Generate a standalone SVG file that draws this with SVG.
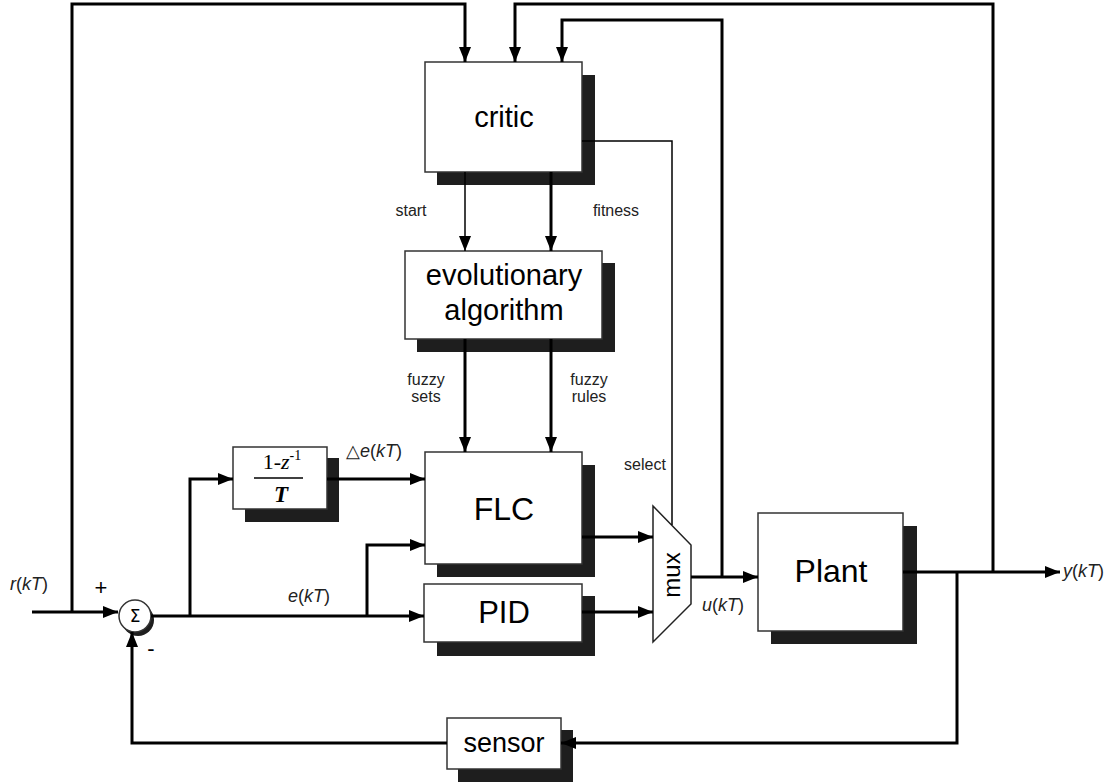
<svg xmlns="http://www.w3.org/2000/svg" width="1112" height="783" viewBox="0 0 1112 783">
<defs>
<marker id="ah" markerUnits="userSpaceOnUse" markerWidth="16" markerHeight="12" refX="15" refY="6" orient="auto">
<path d="M0,0 L15,6 L0,12 z" fill="#000"/>
</marker>
</defs>
<style>
.box{fill:#fff;stroke:#333;stroke-width:1.5}
.sh{fill:#1e1e1e}
.lbl{font-family:"Liberation Sans",Arial,sans-serif;fill:#000}
.sm{font-family:"Liberation Sans",Arial,sans-serif;font-size:16px;fill:#222}
.math{font-family:"Liberation Sans",Arial,sans-serif;font-size:18px;fill:#222}
.thick{fill:none;stroke:#000;stroke-width:3}
.thin{fill:none;stroke:#000;stroke-width:1.5}
</style>
<rect width="1112" height="783" fill="#fff"/>

<g id="critic">
<rect class="sh" x="437" y="75" width="158" height="110"/>
<rect class="box" x="425" y="62" width="157" height="110"/>
<text class="lbl" x="504" y="127" font-size="29" text-anchor="middle">critic</text>
</g>

<g id="evo">
<rect class="sh" x="417" y="263" width="198" height="89"/>
<rect class="box" x="405" y="251" width="197" height="88"/>
<text class="lbl" x="504" y="285" font-size="29" text-anchor="middle">evolutionary</text>
<text class="lbl" x="504" y="320" font-size="29" text-anchor="middle">algorithm</text>
</g>

<g id="flc">
<rect class="sh" x="437" y="465" width="158" height="112"/>
<rect class="box" x="425" y="452" width="157" height="112"/>
<text class="lbl" x="504" y="520" font-size="32" text-anchor="middle">FLC</text>
</g>

<g id="pid">
<rect class="sh" x="437" y="596" width="158" height="60"/>
<rect class="box" x="424" y="584" width="158" height="58"/>
<text class="lbl" x="504" y="623" font-size="31" text-anchor="middle">PID</text>
</g>

<g id="diff">
<rect class="sh" x="245" y="458" width="94" height="64"/>
<rect class="box" x="233" y="447" width="94" height="62"/>
<text x="282" y="469" font-family="Liberation Serif,serif" font-size="22" text-anchor="middle">1-<tspan font-style="italic">z</tspan><tspan font-size="14" dy="-9">-1</tspan></text>
<line x1="254" y1="478" x2="303" y2="478" stroke="#000" stroke-width="1.3"/>
<text x="281" y="502" font-family="Liberation Serif,serif" font-size="23" font-weight="bold" font-style="italic" text-anchor="middle">T</text>
</g>

<g id="sum">
<circle cx="138" cy="620" r="16" fill="#1e1e1e"/>
<circle cx="135" cy="616" r="16" fill="#fff" stroke="#333" stroke-width="1.5"/>
<text x="135" y="622" font-family="DejaVu Sans,sans-serif" font-size="17" text-anchor="middle">Σ</text>
</g>

<g id="mux">
<polygon points="653,506 691,545 691,604 653,642" fill="#fff" stroke="#222" stroke-width="1.5"/>
<text class="lbl" font-size="24" transform="translate(680,575) rotate(-90)" text-anchor="middle">mux</text>
</g>

<g id="plant">
<rect class="sh" x="771" y="526" width="146" height="118"/>
<rect class="box" x="758" y="513" width="145" height="118"/>
<text class="lbl" x="831" y="582" font-size="32" text-anchor="middle">Plant</text>
</g>

<g id="sensor">
<rect class="sh" x="458" y="730" width="115" height="52"/>
<rect class="box" x="447" y="718" width="114" height="51"/>
<text class="lbl" x="504" y="752" font-size="27" text-anchor="middle">sensor</text>
</g>

<g id="connectors">
<path class="thick" d="M32,612 H118" marker-end="url(#ah)"/>
<path class="thick" d="M72,612 V4 H465 V62" marker-end="url(#ah)"/>
<path class="thick" d="M993,572 V4 H515 V62" marker-end="url(#ah)"/>
<path class="thick" d="M722,577 V20 H562 V62" marker-end="url(#ah)"/>
<path class="thin" d="M582,141 H672 V525"/>
<path class="thin" d="M465,172 V251" marker-end="url(#ah)"/>
<path class="thick" d="M551,172 V251" marker-end="url(#ah)"/>
<path class="thick" d="M465,339 V452" marker-end="url(#ah)"/>
<path class="thick" d="M551,339 V452" marker-end="url(#ah)"/>
<path class="thick" d="M151,616 H424" marker-end="url(#ah)"/>
<path class="thick" d="M190,616 V479 H233" marker-end="url(#ah)"/>
<path class="thick" d="M327,479 H425" marker-end="url(#ah)"/>
<path class="thick" d="M367,616 V545 H425" marker-end="url(#ah)"/>
<path class="thick" d="M582,537 H653" marker-end="url(#ah)"/>
<path class="thick" d="M582,612 H653" marker-end="url(#ah)"/>
<path class="thick" d="M691,577 H758" marker-end="url(#ah)"/>
<path class="thick" d="M903,572 H1060" marker-end="url(#ah)"/>
<path class="thick" d="M957,572 V743 H561" marker-end="url(#ah)"/>
<path class="thick" d="M447,743 H132 V632" marker-end="url(#ah)"/>
</g>

<g id="labels">
<text class="sm" x="411" y="216" text-anchor="middle" font-size="17">start</text>
<text class="sm" x="616" y="216" text-anchor="middle" font-size="17">fitness</text>
<text class="sm" x="426" y="385" text-anchor="middle">fuzzy</text>
<text class="sm" x="426" y="402" text-anchor="middle">sets</text>
<text class="sm" x="589" y="385" text-anchor="middle">fuzzy</text>
<text class="sm" x="589" y="402" text-anchor="middle">rules</text>
<text class="sm" x="645" y="470" text-anchor="middle" font-size="17">select</text>
<text class="math" x="10" y="590"><tspan font-style="italic">r</tspan>(<tspan font-style="italic">kT</tspan>)</text>
<text class="math" x="288" y="602"><tspan font-style="italic">e</tspan>(<tspan font-style="italic">kT</tspan>)</text>
<text class="math" x="346" y="457">△<tspan font-style="italic">e</tspan>(<tspan font-style="italic">kT</tspan>)</text>
<text class="math" x="702" y="611"><tspan font-style="italic">u</tspan>(<tspan font-style="italic">kT</tspan>)</text>
<text class="math" x="1063" y="577"><tspan font-style="italic">y</tspan>(<tspan font-style="italic">kT</tspan>)</text>
<text class="lbl" x="101" y="595" font-size="22" text-anchor="middle">+</text>
<text class="lbl" x="151" y="656" font-size="22" text-anchor="middle">-</text>
</g>
</svg>
